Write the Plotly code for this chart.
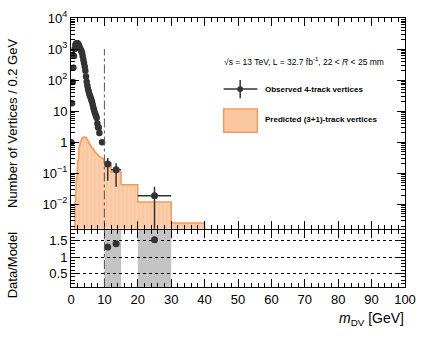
import plotly.graph_objects as go

# ---------------- data ----------------
# observed 4-track vertices, 0.2 GeV bins from 0 to 10 GeV (None = empty bin)
obs_fine_start = 0.0
obs_fine_step = 0.2
obs_fine = [1, 18, 87, 250, 600, 1000, 1350, 1480, 1550, 1550,
            1480, 1350, 1200, 1070, 955, 870, 760, 600, 457, 355,
            275, 200, 132, 89, 66, 52, 43, 35, 31, 27,
            23, 20, 16, 13, 11, 9, 8, 7, 6, 4,
            3, 3, 2, None, None, None, 1, None, None, None]

# observed, wide bins (normalised per 0.2 GeV)
obs_wide_lo_edge = [10, 12, 20]
obs_wide_hi_edge = [12, 15, 30]
obs_wide = [0.2, 0.13, 0.019]
obs_wide_up = [0.31, 0.21, 0.037]
obs_wide_down = [0.058, 0.037, 0.0]

# predicted (3+1)-track vertices
pred_fine_start = 1.0
pred_fine_step = 0.2
pred_fine = [0.003, 0.012, 0.03, 0.07, 0.13, 0.25, 0.45, 0.7, 0.9, 1.05,
             1.2, 1.3, 1.38, 1.44, 1.47, 1.48, 1.45, 1.4, 1.32, 1.22,
             1.12, 1.02, 0.93, 0.85, 0.78, 0.72, 0.67, 0.63, 0.59, 0.55,
             0.51, 0.48, 0.45, 0.43, 0.41, 0.39, 0.37, 0.355, 0.34, 0.33,
             0.32, 0.31, 0.3, 0.29, 0.28]
pred_wide_edges = [10, 12, 15, 20, 30, 40]
pred_wide = [0.22, 0.11, 0.043, 0.012, 0.0025]

# ratio panel
ratio_x = [11, 13.5, 25]
ratio_vals = [1.3, 1.4, 1.52]
band_lo = [10, 20]
band_hi = [15, 30]

cut_mass = 10
cut_top = 1000

y_tickvals = [1e-2, 1e-1, 1, 10, 1e2, 1e3, 1e4]
y_ticktext = ["10<sup>−2</sup>", "10<sup>−1</sup>", "1", "10",
              "10<sup>2</sup>", "10<sup>3</sup>", "10<sup>4</sup>"]
x_tickvals = [0, 10, 20, 30, 40, 50, 60, 70, 80, 90, 100]
r_tickvals = [0.5, 1, 1.5]
r_ticktext = ["0.5", "1", "1.5"]

# ---------------- build ----------------
DARK = "#333333"
ORANGE_LINE = "#F39A5C"
ORANGE_FILL = "#FAC7A0"
FONT = "Liberation Sans, Arial, sans-serif"

# predicted histogram outline
bins = []
for i, v in enumerate(pred_fine):
    lo = pred_fine_start + i * pred_fine_step
    bins.append((lo, lo + pred_fine_step, v))
for i, v in enumerate(pred_wide):
    bins.append((pred_wide_edges[i], pred_wide_edges[i + 1], v))
floor = 1e-5
hx = [bins[0][0]]
hy = [floor]
for lo, hi, v in bins:
    hx += [lo, hi]
    hy += [v, v]
hx.append(bins[-1][1])
hy.append(floor)

fig = go.Figure()

fig.add_trace(go.Scatter(
    x=hx, y=hy, mode="lines", fill="toself",
    fillcolor=ORANGE_FILL,
    fillpattern=dict(shape="|", bgcolor=ORANGE_FILL, fgcolor="#FFFFFF",
                     size=4, solidity=0.15),
    line=dict(color=ORANGE_LINE, width=1.5),
    xaxis="x", yaxis="y", showlegend=False, hoverinfo="skip"))

ox = [obs_fine_start + (i + 0.5) * obs_fine_step for i in range(len(obs_fine))]
fig.add_trace(go.Scatter(
    x=ox, y=obs_fine, mode="markers",
    marker=dict(color=DARK, size=6.5),
    xaxis="x", yaxis="y", showlegend=False))

wx = [(a + b) / 2 for a, b in zip(obs_wide_lo_edge, obs_wide_hi_edge)]
wxe = [(b - a) / 2 for a, b in zip(obs_wide_lo_edge, obs_wide_hi_edge)]
fig.add_trace(go.Scatter(
    x=wx, y=obs_wide, mode="markers",
    marker=dict(color=DARK, size=7),
    error_x=dict(type="data", array=wxe, color=DARK, thickness=1.5, width=0),
    error_y=dict(type="data",
                 array=[u - v for u, v in zip(obs_wide_up, obs_wide)],
                 arrayminus=[v - d for v, d in zip(obs_wide, obs_wide_down)],
                 color=DARK, thickness=1.5, width=0),
    xaxis="x", yaxis="y", showlegend=False))

fig.add_trace(go.Scatter(
    x=ratio_x, y=ratio_vals, mode="markers",
    marker=dict(color=DARK, size=7),
    xaxis="x2", yaxis="y2", showlegend=False))

shapes = []
for lo, hi in zip(band_lo, band_hi):
    shapes.append(dict(type="rect", xref="x2", yref="y2 domain",
                       x0=lo, x1=hi, y0=0, y1=1, fillcolor="#C4C4C4",
                       line=dict(width=0), layer="below"))
# cut line
shapes.append(dict(type="line", xref="x", yref="y", x0=cut_mass, x1=cut_mass,
                   y0=1e-3, y1=cut_top, line=dict(color="#555555", width=1, dash="dashdot")))
shapes.append(dict(type="line", xref="x2", yref="y2 domain", x0=cut_mass, x1=cut_mass,
                   y0=0, y1=1, line=dict(color="#555555", width=1, dash="dashdot")))

# legend symbols (paper coords)
W, H, L, T = 337.0, 278.0, 71.0, 9.0
def px(X):
    return (X - L) / W
def py(Y):
    return (H + T - Y) / H

shapes.append(dict(type="line", xref="paper", yref="paper",
                   x0=px(225), x1=px(259), y0=py(82.5), y1=py(82.5),
                   line=dict(color=DARK, width=1.5)))
shapes.append(dict(type="line", xref="paper", yref="paper",
                   x0=px(241.7), x1=px(241.7), y0=py(73), y1=py(92),
                   line=dict(color=DARK, width=1.5)))
shapes.append(dict(type="circle", xref="paper", yref="paper",
                   x0=px(238.7), x1=px(244.7), y0=py(79.5), y1=py(85.5),
                   fillcolor=DARK, line=dict(color=DARK, width=0)))
shapes.append(dict(type="rect", xref="paper", yref="paper",
                   x0=px(225), x1=px(259), y0=py(127), y1=py(103),
                   fillcolor=ORANGE_FILL, line=dict(color=ORANGE_LINE, width=1.5)))

annotations = [
    dict(text="√s = 13 TeV, L = 32.7 fb<sup>-1</sup>, 22 < <i>R</i> < 25 mm",
         xref="paper", yref="paper", x=px(223), y=py(54), xanchor="left",
         yanchor="middle", showarrow=False, font=dict(size=8.5, color="black", family=FONT)),
    dict(text="<b>Observed 4-track vertices</b>", xref="paper", yref="paper",
         x=px(265), y=py(82.5), xanchor="left", yanchor="middle", showarrow=False,
         font=dict(size=8, color="black", family=FONT)),
    dict(text="<b>Predicted (3+1)-track vertices</b>", xref="paper", yref="paper",
         x=px(265), y=py(113.5), xanchor="left", yanchor="middle", showarrow=False,
         font=dict(size=8, color="black", family=FONT)),
    dict(text="Number of Vertices / 0.2 GeV", xref="paper", yref="paper",
         x=px(12), y=py(118), xanchor="center", yanchor="middle", textangle=-90,
         showarrow=False, font=dict(size=13, color="black", family=FONT)),
    dict(text="Data/Model", xref="paper", yref="paper",
         x=px(12), y=py(264), xanchor="center", yanchor="middle", textangle=-90,
         showarrow=False, font=dict(size=13, color="black", family=FONT)),
    dict(text="<i>m</i><sub>DV</sub> [GeV]", xref="paper", yref="paper",
         x=px(409), y=py(320), xanchor="right", yanchor="middle",
         showarrow=False, font=dict(size=14, color="black", family=FONT)),
]

axis_common = dict(showline=True, linecolor="black", linewidth=1, mirror="allticks",
                   ticks="inside", tickcolor="black", ticklen=8, tickwidth=1,
                   showgrid=False, zeroline=False,
                   tickfont=dict(size=13, color="black", family=FONT))

fig.update_layout(
    width=425, height=338,
    margin=dict(l=71, r=17, t=9, b=51),
    paper_bgcolor="white", plot_bgcolor="white",
    font=dict(family=FONT, color="black"),
    showlegend=False,
    xaxis=dict(axis_common, domain=[0, 1], anchor="y", range=[0, 100],
               tickvals=x_tickvals, showticklabels=False, matches="x2",
               minor=dict(ticks="inside", ticklen=4, dtick=2, tickcolor="black")),
    yaxis=dict(axis_common, domain=[0.217, 1], anchor="x", type="log",
               range=[-2.78, 4.0], tickvals=y_tickvals, ticktext=y_ticktext,
               minor=dict(ticks="inside", ticklen=4, dtick="D1", tickcolor="black")),
    xaxis2=dict(axis_common, domain=[0, 1], anchor="y2", range=[0, 100],
                tickvals=x_tickvals,
                minor=dict(ticks="inside", ticklen=4, dtick=2, tickcolor="black")),
    yaxis2=dict(axis_common, domain=[0, 0.212], anchor="x2", range=[0.09, 1.82],
                tickvals=r_tickvals, ticktext=r_ticktext,
                showgrid=True, gridcolor="black", griddash="dot", gridwidth=1,
                minor=dict(ticks="inside", ticklen=4, dtick=0.1, tickcolor="black")),
    shapes=shapes,
    annotations=annotations,
)

fig.write_html("out.html",
               config={"displayModeBar": False},
               post_script="document.body.style.margin='0px';document.body.style.padding='0px';")
